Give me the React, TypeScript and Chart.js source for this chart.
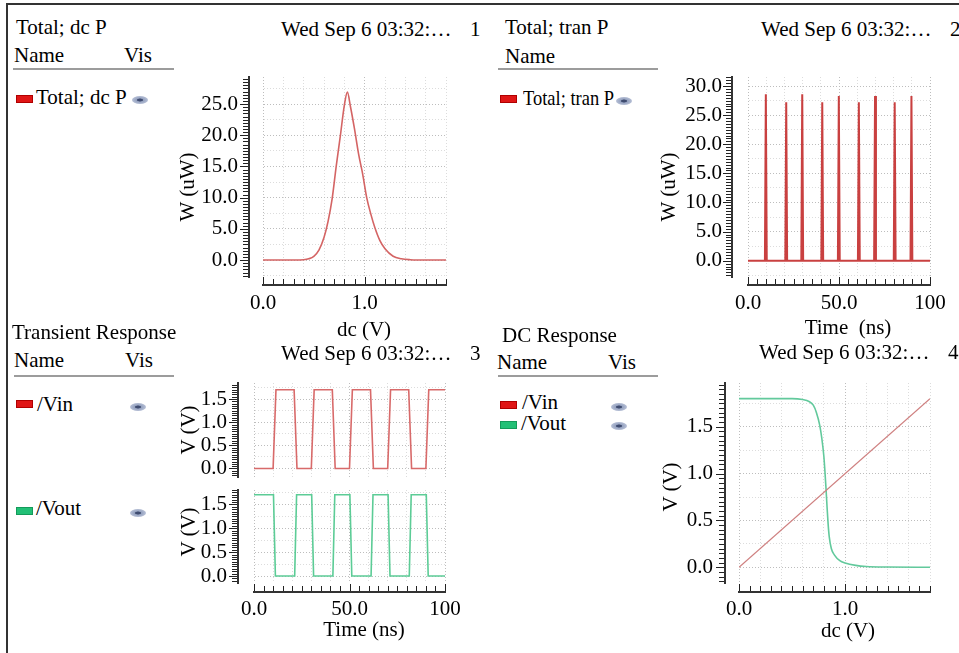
import React, { useEffect, useRef } from "react";
import { Chart, registerables } from "chart.js";

Chart.register(...registerables);

const FONT = "'Liberation Serif', 'Times New Roman', Times, serif";

// ---------- Panel 1: "Total; dc P" (power vs dc sweep) ----------
const dcPowerSweep = [0, 0.3, 0.4, 0.45, 0.5, 0.55, 0.6, 0.64, 0.68, 0.72, 0.76, 0.8, 0.83, 0.86, 0.9, 0.94, 0.98, 1.02, 1.06, 1.1, 1.15, 1.2, 1.28, 1.36, 1.45, 1.6, 1.8];
const dcPowerUW = [0, 0, 0.05, 0.2, 0.6, 1.6, 3.6, 6.2, 9.8, 15.0, 19.8, 24.8, 26.9, 24.6, 21.0, 17.0, 13.8, 10.0, 7.4, 5.2, 3.1, 1.8, 0.6, 0.2, 0.05, 0, 0];
const dcPowerTickValues = [0, 5, 10, 15, 20, 25];
const dcPowerTickLabels = ["0.0", "5.0", "10.0", "15.0", "20.0", "25.0"];

// ---------- Panel 2: "Total; tran P" (power vs time) ----------
const tranPowerTime = [0, 9.3, 9.8, 10.3, 20.5, 21.0, 21.5, 29.3, 29.8, 30.3, 40.3, 40.8, 41.3, 49.4, 49.9, 50.4, 60.4, 60.9, 61.4, 69.3, 69.8, 70.3, 80.1, 80.6, 81.1, 89.3, 89.8, 90.3, 100];
const tranPowerUW = [0, 0, 28.6, 0, 0, 27.2, 0, 0, 28.6, 0, 0, 27.2, 0, 0, 28.3, 0, 0, 27.2, 0, 0, 28.3, 0, 0, 27.2, 0, 0, 28.3, 0, 0];
const tranPowerTickValues = [0, 5, 10, 15, 20, 25, 30];
const tranPowerTickLabels = ["0.0", "5.0", "10.0", "15.0", "20.0", "25.0", "30.0"];

// ---------- Panel 3: Transient Response ----------
const vinTime = [0, 10, 11.5, 21, 22.5, 30, 31.5, 41, 42.5, 50, 51.5, 61, 62.5, 70, 71.5, 81, 82.5, 90, 91.5, 100];
const vinVolt = [0, 0, 1.7, 1.7, 0, 0, 1.7, 1.7, 0, 0, 1.7, 1.7, 0, 0, 1.7, 1.7, 0, 0, 1.7, 1.7];
const voutTime = [0, 10.2, 11.2, 21.3, 22.3, 30.2, 31.2, 41.3, 42.3, 50.2, 51.2, 61.3, 62.3, 70.2, 71.2, 81.3, 82.3, 90.2, 91.2, 100];
const voutVolt = [1.7, 1.7, 0, 0, 1.7, 1.7, 0, 0, 1.7, 1.7, 0, 0, 1.7, 1.7, 0, 0, 1.7, 1.7, 0, 0];

// ---------- Panel 4: DC Response ----------
const dcVinSweep = [0, 1.8];
const dcVinVolt = [0, 1.8];
const dcVoutSweep = [0, 0.3, 0.5, 0.6, 0.66, 0.7, 0.73, 0.76, 0.78, 0.8, 0.81, 0.82, 0.83, 0.84, 0.85, 0.87, 0.9, 0.95, 1.0, 1.1, 1.2, 1.4, 1.8];
const dcVoutVolt = [1.8, 1.8, 1.8, 1.79, 1.77, 1.73, 1.65, 1.52, 1.38, 1.18, 1.02, 0.84, 0.64, 0.46, 0.33, 0.2, 0.13, 0.07, 0.045, 0.02, 0.008, 0.002, 0];

// shared tick labels
const voltTickValues = [0, 0.5, 1, 1.5];
const voltTickLabels = ["0.0", "0.5", "1.0", "1.5"];
const dcSweepTickValues = [0, 1];
const dcSweepTickLabels = ["0.0", "1.0"];
const timeTickValues = [0, 50, 100];
const timeTickLabels = ["0.0", "50.0", "100"];

type AxisSpec = {
  min: number; max: number; step: number; gridStep: number; majorStep: number;
  tickValues: number[]; tickLabels: string[];
  show: boolean; outer: number; spacer: number; labelPad: number;
};
type SeriesSpec = { xs: number[]; ys: number[]; color: string; width: number; smooth: boolean };
type PlotSpec = {
  left: number; top: number; w: number; h: number;
  pad: { top: number; right: number; bottom: number; left: number };
  x: AxisSpec; y: AxisSpec; series: SeriesSpec[];
};

const near = (v: number, step: number) => Math.abs(v / step - Math.round(v / step)) < 1e-6;
const isTick = (v: number, values: number[]) => values.some((t) => Math.abs(t - v) < 1e-6);
const labelFor = (v: number, values: number[], labels: string[]) => {
  const i = values.findIndex((t) => Math.abs(t - v) < 1e-6);
  return i >= 0 ? labels[i] : "";
};
const tickFont = { family: FONT, size: 21 };
const TICK_COLOR = "#222";

function zeroPad(s: any) {
  s.paddingLeft = 0; s.paddingRight = 0; s.paddingTop = 0; s.paddingBottom = 0;
}

function gridColor(v: number, a: AxisSpec) {
  if (!isFinite(v)) return "rgba(0,0,0,0)";
  if (near(v, a.majorStep)) return "#bdbdbd";
  if (near(v, a.gridStep)) return "#dcdcdc";
  return "rgba(0,0,0,0)";
}

// Draws the dense minor/major tick "comb" along each visible axis spine,
// at every tick value produced by the Chart.js scale.
const combPlugin = {
  id: "comb",
  afterDraw(chart: any) {
    const ctx = chart.ctx;
    const cfg = chart.config._config.__comb as { x: AxisSpec; y: AxisSpec };
    if (!cfg) return;
    ctx.save();
    ctx.strokeStyle = TICK_COLOR;
    ctx.lineWidth = 1;
    const ys = chart.scales.y;
    ys.ticks.forEach((t: any) => {
      const py = Math.round(ys.getPixelForValue(t.value)) + 0.5;
      const len = isTick(t.value, cfg.y.tickValues) ? 8 : 5;
      ctx.beginPath();
      ctx.moveTo(ys.right - 1 - len, py);
      ctx.lineTo(ys.right - 1, py);
      ctx.stroke();
    });
    if (cfg.x.show) {
      const xs = chart.scales.x;
      xs.ticks.forEach((t: any) => {
        const px = Math.round(xs.getPixelForValue(t.value)) + 0.5;
        const len = isTick(t.value, cfg.x.tickValues) ? 7 : 5;
        ctx.beginPath();
        ctx.moveTo(px, xs.top - 1);
        ctx.lineTo(px, xs.top - 1 - len);
        ctx.stroke();
      });
    }
    ctx.restore();
  },
};

function buildConfig(p: PlotSpec): any {
  const scales: any = {};
  scales.x = {
    type: "linear", position: "bottom", weight: 1, min: p.x.min, max: p.x.max,
    afterFit: (s: any) => { s.height = p.x.show ? p.x.outer : 0; zeroPad(s); },
    ticks: {
      display: p.x.show, stepSize: p.x.step, autoSkip: false, includeBounds: false,
      maxRotation: 0, minRotation: 0, padding: p.x.labelPad, color: "#000", font: tickFont,
      maxTicksLimit: 1000,
      callback: (v: number) => labelFor(v, p.x.tickValues, p.x.tickLabels),
    },
    grid: {
      display: true, drawOnChartArea: true, drawTicks: false, lineWidth: 1,
      color: (c: any) => gridColor(c.tick ? c.tick.value : NaN, p.x),
    },
    border: { display: p.x.show, color: "#333", width: 2, dash: [1, 2] },
  };
  scales.y = {
    type: "linear", position: "left", weight: 1, min: p.y.min, max: p.y.max,
    afterFit: (s: any) => { s.width = p.y.outer; zeroPad(s); },
    ticks: {
      display: true, stepSize: p.y.step, autoSkip: false, includeBounds: false,
      padding: p.y.labelPad, color: "#000", font: tickFont,
      maxTicksLimit: 1000,
      callback: (v: number) => labelFor(v, p.y.tickValues, p.y.tickLabels),
    },
    grid: {
      display: true, drawOnChartArea: true, drawTicks: false, lineWidth: 1,
      color: (c: any) => gridColor(c.tick ? c.tick.value : NaN, p.y),
    },
    border: { display: true, color: "#333", width: 2, dash: [1, 2] },
  };
  scales.ys = {
    type: "linear", position: "left", weight: 0, display: true,
    afterFit: (s: any) => { s.width = p.y.spacer; zeroPad(s); },
    ticks: { display: false }, grid: { display: false }, border: { display: false },
  };
  if (p.x.show) {
    scales.xs = {
      type: "linear", position: "bottom", weight: 0, display: true,
      afterFit: (s: any) => { s.height = p.x.spacer; zeroPad(s); },
      ticks: { display: false }, grid: { display: false }, border: { display: false },
    };
  }
  return {
    type: "line",
    __comb: { x: p.x, y: p.y },
    plugins: [combPlugin],
    data: {
      datasets: p.series.map((s) => ({
        data: s.xs.map((x, i) => ({ x, y: s.ys[i] })),
        borderColor: s.color, borderWidth: s.width, pointRadius: 0, fill: false,
        tension: s.smooth ? 0.4 : 0,
        cubicInterpolationMode: s.smooth ? "monotone" : "default",
        xAxisID: "x", yAxisID: "y",
      })),
    },
    options: {
      responsive: false, maintainAspectRatio: false, animation: false, devicePixelRatio: 1, events: [],
      layout: { padding: p.pad, autoPadding: false },
      plugins: { legend: { display: false }, tooltip: { enabled: false }, title: { display: false } },
      scales,
    },
  };
}

const dcAxis = (labelPad: number, outer: number, spacer: number): AxisSpec => ({
  min: 0, max: 1.8, step: 0.1, gridStep: 0.2, majorStep: 1,
  tickValues: dcSweepTickValues, tickLabels: dcSweepTickLabels, show: true, outer, spacer, labelPad,
});
const timeAxis = (show: boolean, labelPad: number, outer: number, spacer: number): AxisSpec => ({
  min: 0, max: 100, step: 5, gridStep: 10, majorStep: 50,
  tickValues: timeTickValues, tickLabels: timeTickLabels, show, outer, spacer, labelPad,
});

const plot1: PlotSpec = {
  left: 190, top: 70, w: 270, h: 250, pad: { top: 7, right: 14, bottom: 0, left: 0 },
  x: dcAxis(6, 35, 8),
  y: { min: -2.72, max: 29.33, step: 0.5, gridStep: 2.5, majorStep: 5, tickValues: dcPowerTickValues, tickLabels: dcPowerTickLabels, show: true, outer: 59, spacer: 14, labelPad: 11 },
  series: [{ xs: dcPowerSweep, ys: dcPowerUW, color: "#d46464", width: 1.6, smooth: true }],
};
const plot2: PlotSpec = {
  left: 670, top: 70, w: 289, h: 250, pad: { top: 7, right: 29, bottom: 0, left: 0 },
  x: timeAxis(true, 6, 35, 8),
  y: { min: -2.8, max: 31.56, step: 0.5, gridStep: 2.5, majorStep: 5, tickValues: tranPowerTickValues, tickLabels: tranPowerTickLabels, show: true, outer: 62, spacer: 16, labelPad: 10 },
  series: [{ xs: tranPowerTime, ys: tranPowerUW, color: "#c94040", width: 2, smooth: false }],
};
const plot3a: PlotSpec = {
  left: 190, top: 375, w: 270, h: 103, pad: { top: 8, right: 15, bottom: 1, left: 0 },
  x: timeAxis(false, 9, 0, 0),
  y: { min: -0.184, max: 1.847, step: 0.05, gridStep: 0.25, majorStep: 0.5, tickValues: voltTickValues, tickLabels: voltTickLabels, show: true, outer: 48, spacer: 16, labelPad: 11 },
  series: [{ xs: vinTime, ys: vinVolt, color: "#d86a6a", width: 1.6, smooth: false }],
};
const plot3b: PlotSpec = {
  left: 190, top: 482, w: 270, h: 143, pad: { top: 8, right: 15, bottom: 0, left: 0 },
  x: timeAxis(true, 5, 33, 9),
  y: { min: -0.146, max: 1.8, step: 0.05, gridStep: 0.25, majorStep: 0.5, tickValues: voltTickValues, tickLabels: voltTickLabels, show: true, outer: 48, spacer: 16, labelPad: 11 },
  series: [{ xs: voutTime, ys: voutVolt, color: "#5ccc96", width: 1.6, smooth: false }],
};
const plot4: PlotSpec = {
  left: 680, top: 375, w: 279, h: 250, pad: { top: 8, right: 29, bottom: 0, left: 0 },
  x: dcAxis(5, 33, 9),
  y: { min: -0.168, max: 1.967, step: 0.05, gridStep: 0.25, majorStep: 0.5, tickValues: voltTickValues, tickLabels: voltTickLabels, show: true, outer: 45, spacer: 14, labelPad: 12 },
  series: [
    { xs: dcVinSweep, ys: dcVinVolt, color: "#cf8080", width: 1.3, smooth: false },
    { xs: dcVoutSweep, ys: dcVoutVolt, color: "#62c99c", width: 1.6, smooth: true },
  ],
};

function PlotCanvas({ spec }: { spec: PlotSpec }) {
  const ref = useRef<HTMLCanvasElement>(null);
  useEffect(() => {
    if (!ref.current) return;
    const chart = new Chart(ref.current, buildConfig(spec));
    return () => chart.destroy();
  }, [spec]);
  return (
    <canvas
      ref={ref}
      width={spec.w}
      height={spec.h}
      style={{ position: "absolute", left: spec.left, top: spec.top, width: spec.w, height: spec.h }}
    />
  );
}

// text placed by left edge (or centre) and baseline
function T({ x, b, c, sx, children }: { x: number; b: number; c?: boolean; sx?: number; children: React.ReactNode }) {
  let transform: string | undefined = undefined;
  if (c) transform = "translateX(-50%)";
  if (sx) transform = `scaleX(${sx})`;
  return (
    <div
      style={{
        position: "absolute", left: x, top: b - 17.6, lineHeight: "21px", whiteSpace: "pre",
        transform, transformOrigin: "0 50%",
      }}
    >
      {children}
    </div>
  );
}
function R({ x, y, children }: { x: number; y: number; children: React.ReactNode }) {
  return (
    <div
      style={{
        position: "absolute", left: x, top: y, lineHeight: "21px", whiteSpace: "pre",
        transform: "translate(-50%, -50%) rotate(-90deg)",
      }}
    >
      {children}
    </div>
  );
}
function Swatch({ x, y, color, edge }: { x: number; y: number; color: string; edge: string }) {
  return (
    <div style={{ position: "absolute", left: x, top: y, width: 17, height: 8, background: color, boxSizing: "border-box", border: `1px solid ${edge}` }} />
  );
}
function Eye({ x, y }: { x: number; y: number }) {
  return (
    <div
      style={{
        position: "absolute", left: x, top: y - 4, width: 16, height: 8, borderRadius: "50%",
        background: "radial-gradient(ellipse at 50% 50%, #3f4c70 0, #3f4c70 2.5px, #95a2c0 3.5px, #d0d6e6 100%)",
      }}
    />
  );
}
function Rule({ x, y, w }: { x: number; y: number; w: number }) {
  return <div style={{ position: "absolute", left: x, top: y, width: w, height: 2, background: "#9c9c9c" }} />;
}

const RED = "#e01616";
const RED_EDGE = "#b00000";
const GREEN = "#22c076";
const GREEN_EDGE = "#149a5a";
const STAMP = "Wed Sep 6 03:32:\u2026";

export default function App() {
  return (
    <div
      style={{
        position: "absolute", left: 0, top: 0, width: 959, height: 653, overflow: "hidden",
        background: "#fff", fontFamily: FONT, fontSize: 21, color: "#000",
      }}
    >
      <PlotCanvas spec={plot1} />
      <PlotCanvas spec={plot2} />
      <PlotCanvas spec={plot3a} />
      <PlotCanvas spec={plot3b} />
      <PlotCanvas spec={plot4} />

      {/* outer frame */}
      <div style={{ position: "absolute", left: 6, top: 3, width: 953, height: 2, background: "#333" }} />
      <div style={{ position: "absolute", left: 6, top: 3, width: 2, height: 650, background: "#333" }} />

      {/* Panel 1 */}
      <T x={16} b={35}>Total; dc P</T>
      <T x={14} b={63}>Name</T>
      <T x={124} b={63}>Vis</T>
      <Rule x={13} y={68} w={161} />
      <Swatch x={16} y={95} color={RED} edge={RED_EDGE} />
      <T x={36} b={105}>Total; dc P</T>
      <Eye x={132} y={100} />
      <T x={281} b={37}>{STAMP}</T>
      <T x={470} b={37}>1</T>
      <R x={187} y={187}>W (uW)</R>
      <T x={364} b={337} c>dc (V)</T>

      {/* Panel 2 */}
      <T x={505} b={35}>Total; tran P</T>
      <T x={505} b={64}>Name</T>
      <Rule x={498} y={68} w={160} />
      <Swatch x={500} y={95} color={RED} edge={RED_EDGE} />
      <T x={523} b={106} sx={0.88}>Total; tran P</T>
      <Eye x={616} y={101} />
      <T x={761} b={37}>{STAMP}</T>
      <T x={950} b={37}>2</T>
      <R x={668} y={187}>W (uW)</R>
      <T x={848} b={335} c>{"Time  (ns)"}</T>

      {/* Panel 3 */}
      <T x={12} b={340}>Transient Response</T>
      <T x={14} b={368}>Name</T>
      <T x={125} b={368}>Vis</T>
      <Rule x={14} y={375} w={160} />
      <Swatch x={16} y={400} color={RED} edge={RED_EDGE} />
      <T x={37} b={412}>/Vin</T>
      <Eye x={130} y={407} />
      <Swatch x={16} y={507} color={GREEN} edge={GREEN_EDGE} />
      <T x={36} b={516}>/Vout</T>
      <Eye x={130} y={513} />
      <T x={281} b={361}>{STAMP}</T>
      <T x={470} b={361}>3</T>
      <R x={188} y={430}>V (V)</R>
      <R x={188} y={532}>V (V)</R>
      <T x={364} b={637} c>Time (ns)</T>

      {/* Panel 4 */}
      <T x={502} b={343}>DC Response</T>
      <T x={497} b={370}>Name</T>
      <T x={608} b={370}>Vis</T>
      <Rule x={498} y={375} w={160} />
      <Swatch x={500} y={401} color={RED} edge={RED_EDGE} />
      <T x={522} b={410}>/Vin</T>
      <Eye x={611} y={407} />
      <Swatch x={500} y={421} color={GREEN} edge={GREEN_EDGE} />
      <T x={521} b={431}>/Vout</T>
      <Eye x={611} y={426} />
      <T x={759} b={360}>{STAMP}</T>
      <T x={948} b={360}>4</T>
      <R x={670} y={487}>V (V)</R>
      <T x={848} b={638} c>dc (V)</T>
    </div>
  );
}
